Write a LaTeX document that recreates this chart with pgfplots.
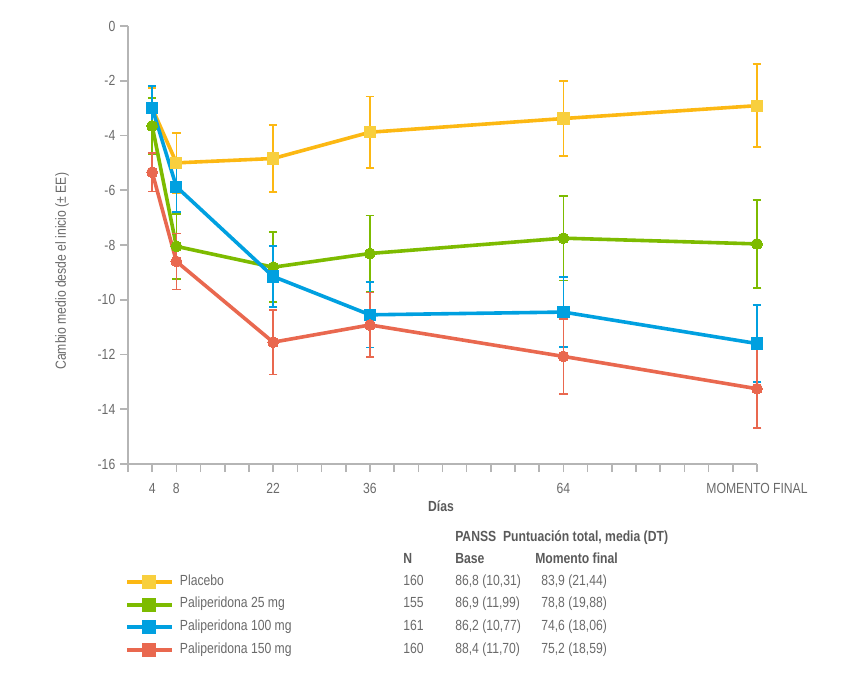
\documentclass[border=0pt]{standalone}
\usepackage{fontspec}
\setmainfont{Liberation Sans}[FakeStretch=0.83]
\usepackage{pgfplots}
\pgfplotsset{compat=1.18}
\definecolor{ylw}{HTML}{FCB813}
\definecolor{ylwm}{HTML}{F8CF3E}
\definecolor{grn}{HTML}{7DBB00}
\definecolor{blu}{HTML}{00A0E0}
\definecolor{red1}{HTML}{E9684F}
\definecolor{axgray}{HTML}{B5B5B5}
\definecolor{txtgray}{HTML}{6A6A6A}
\definecolor{hdgray}{HTML}{5A5A5A}
\newcommand{\ff}{\fontsize{11pt}{13pt}\selectfont}
\newcommand{\legimg}[2]{%
  \fill[#1, draw=none] (0pt,-1.5pt) rectangle (34pt,1.5pt);
  \fill[#2, draw=none] (11.5pt,-5.25pt) rectangle (22pt,5.25pt);
  \path[draw=none, fill=none] (0pt,-5.5pt) rectangle (39.75pt,5.5pt);}
\begin{document}
\begin{tikzpicture}
\begin{axis}[
  at={(0,0)}, anchor=south west, name=ax,
  scale only axis, width=471.75pt, height=328.5pt,
  xmin=0, xmax=26, ymin=-16, ymax=0,
  axis lines=left,
  axis line style={-, draw=axgray, line width=1.5pt},
  xtick={0,...,26},
  xticklabels={,4,8,,,,22,,,,36,,,,,,,,64,,,,,,,,MOMENTO FINAL},
  ytick={-16,-14,...,0},
  tick align=outside, major tick length=6pt,
  tick style={draw=axgray, line width=1.2pt},
  ticklabel style={font=\ff, text=txtgray},
  xticklabel style={yshift=-5pt},
  /pgf/number format/assume math mode=true,
  xlabel={\textbf{Días}},
  ylabel={Cambio medio desde el inicio (± EE)},
  xlabel style={font=\ff, text=hdgray, at={(axis description cs:0.4976,-0.096)}, anchor=center},
  ylabel style={font=\ff, text=txtgray, at={(axis description cs:-0.105,0.44)}, anchor=center},
  clip=false,
  legend cell align=left,
  legend style={at={(axis description cs:-0.0016,-0.2432)}, anchor=north west,
    draw=none, fill=none, inner sep=0pt, outer sep=0pt, row sep=0pt, column sep=0pt,
    font=\ff, text=txtgray,
    nodes={inner sep=0pt, text height=11pt, text depth=6pt}},
  every axis plot/.append style={line width=2.7pt},
  error bars/error bar style={line width=1.25pt},
  error bars/error mark options={rotate=90, line width=1.25pt, mark size=3.2pt},
]
\addplot[ylw, mark=square*, mark size=4.2pt,
  mark options={fill=ylwm, draw=ylwm, line width=0pt},
  legend image code/.code={\legimg{ylw}{ylwm}},
  error bars/.cd, y dir=both, y explicit]
coordinates {
 (1,-3.0) +- (0,0.73)
 (2,-5.0) +- (0,1.1)
 (6,-4.84) +- (0,1.23)
 (10,-3.88) +- (0,1.31)
 (18,-3.38) +- (0,1.37)
 (26,-2.91) +- (0,1.52)
};
\addlegendentry{Placebo}
\addplot[grn, mark=*, mark size=4.1pt,
  mark options={fill=grn, draw=grn, line width=0pt},
  legend image code/.code={\legimg{grn}{grn}},
  error bars/.cd, y dir=both, y explicit]
coordinates {
 (1,-3.65) +- (0,1.03)
 (2,-8.05) +- (0,1.18)
 (6,-8.81) +- (0,1.28)
 (10,-8.31) +- (0,1.39)
 (18,-7.75) +- (0,1.55)
 (26,-7.96) +- (0,1.6)
};
\addlegendentry{Paliperidona 25 mg}
\addplot[blu, mark=square*, mark size=4.2pt,
  mark options={fill=blu, draw=blu, line width=0pt},
  legend image code/.code={\legimg{blu}{blu}},
  error bars/.cd, y dir=both, y explicit]
coordinates {
 (1,-3.0) +- (0,0.8)
 (2,-5.87) +- (0,0.92)
 (6,-9.15) +- (0,1.12)
 (10,-10.55) +- (0,1.19)
 (18,-10.45) +- (0,1.27)
 (26,-11.6) +- (0,1.4)
};
\addlegendentry{Paliperidona 100 mg}
\addplot[red1, mark=*, mark size=4.1pt,
  mark options={fill=red1, draw=red1, line width=0pt},
  legend image code/.code={\legimg{red1}{red1}},
  error bars/.cd, y dir=both, y explicit]
coordinates {
 (1,-5.34) +- (0,0.7)
 (2,-8.6) +- (0,1.02)
 (6,-11.55) +- (0,1.18)
 (10,-10.92) +- (0,1.18)
 (18,-12.07) +- (0,1.37)
 (26,-13.25) +- (0,1.44)
};
\addlegendentry{Paliperidona 150 mg}
\end{axis}
\begin{scope}[every node/.style={anchor=base west, inner sep=0pt, font=\ff, text=txtgray}]
\node[font=\ff\bfseries, text=hdgray] at (245.25pt,-57.9pt) {PANSS\ \ Puntuación total, media (DT)};
\node[font=\ff\bfseries, text=hdgray] at (206.25pt,-74.4pt) {N};
\node[font=\ff\bfseries, text=hdgray] at (245.25pt,-74.4pt) {Base};
\node[font=\ff\bfseries, text=hdgray] at (305.25pt,-74.4pt) {Momento final};
\node at (206.25pt,-90.9pt) {160};
\node at (206.25pt,-107.9pt) {155};
\node at (206.25pt,-124.9pt) {161};
\node at (206.25pt,-141.9pt) {160};
\node at (245.25pt,-90.9pt) {86,8 (10,31)};
\node at (245.25pt,-107.9pt) {86,9 (11,99)};
\node at (245.25pt,-124.9pt) {86,2 (10,77)};
\node at (245.25pt,-141.9pt) {88,4 (11,70)};
\node at (309.75pt,-90.9pt) {83,9 (21,44)};
\node at (309.75pt,-107.9pt) {78,8 (19,88)};
\node at (309.75pt,-124.9pt) {74,6 (18,06)};
\node at (309.75pt,-141.9pt) {75,2 (18,59)};
\end{scope}
\path[use as bounding box] (-96pt,-159pt) rectangle (541.5pt,348pt);
\end{tikzpicture}
\end{document}
